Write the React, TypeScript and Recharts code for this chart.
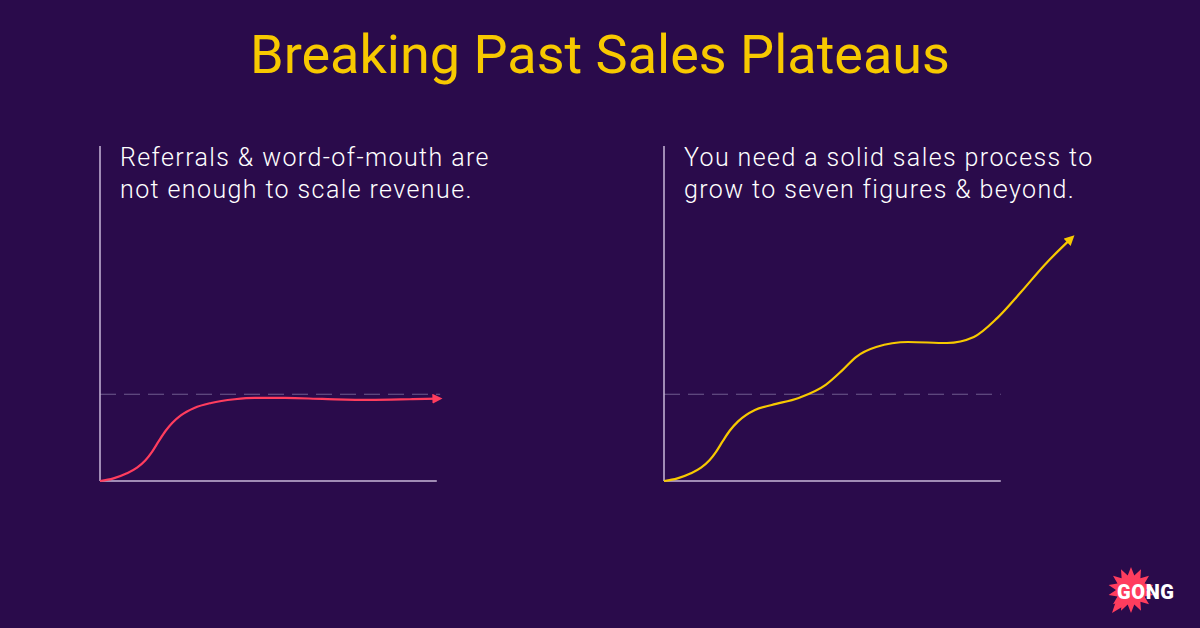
import React from 'react';
import { LineChart, Line, XAxis, YAxis, ReferenceLine } from 'recharts';

const BG = '#2a0b4b';
const AXIS = '#c9b9d9';
const DASH = '#6f5c8e';
const RED = '#ff3d5e';
const YELLOW = '#f7c900';

const title = 'Breaking Past Sales Plateaus';
const leftCaption = ['Referrals & word-of-mouth are', 'not enough to scale revenue.'];
const rightCaption = ['You need a solid sales process to', 'grow to seven figures & beyond.'];

// plateau level shown as a dashed line
const plateauLevel = 25.9;

// left: revenue flattens out at the plateau
const plateauX = [0, 4, 8, 11, 13.5, 15.5, 17.5, 19.5, 21.5, 24, 28, 33, 40, 46, 55, 66, 80, 92, 100.5];
const plateauY = [0, 0.8, 2.3, 4, 6.2, 8.8, 12, 15, 17.4, 19.6, 21.8, 23.3, 24.4, 24.8, 24.8, 24.5, 24.2, 24.4, 24.6];

// right: revenue keeps growing past the plateau
const growthX = [0, 4, 8, 11, 13.5, 15.5, 17.5, 19.5, 22, 27, 32, 40, 48, 53, 57, 63, 72.5, 84, 92, 99, 106, 113, 121];
const growthY = [0, 0.8, 2.3, 4, 6.2, 8.8, 12, 15, 17.8, 21.2, 22.7, 24.8, 28.7, 33.1, 37, 40, 41.5, 41.2, 43, 48.7, 56.4, 64.5, 72.5];

const plateauData = plateauX.map((x, i) => ({ x, y: plateauY[i] }));
const growthData = growthX.map((x, i) => ({ x, y: growthY[i] }));

const CHART_W = 431;
const CHART_H = 345;

function Panel({ data, color, markerId, left, dashEnd }: { data: { x: number; y: number }[]; color: string; markerId: string; left: number; dashEnd: number }) {
    return (
        <div style={{ position: 'absolute', left, top: 141 }}>
            <LineChart width={CHART_W} height={CHART_H} data={data} margin={{ top: 5, right: 5, bottom: 5, left: 5 }}>
                <defs>
                    <marker id={markerId} viewBox="0 0 10 10" refX="6" refY="5" markerWidth="4.6" markerHeight="4.6" orient="auto" markerUnits="strokeWidth">
                        <path d="M0,0 L10,5 L0,10 z" fill={color} />
                    </marker>
                </defs>
                <XAxis type="number" dataKey="x" domain={[0, 125]} hide />
                <YAxis type="number" domain={[0, 100]} hide />
                <ReferenceLine segment={[{ x: 0, y: plateauLevel }, { x: dashEnd, y: plateauLevel }]} stroke={DASH} strokeWidth={1.2} strokeDasharray="16 8" />
                <ReferenceLine segment={[{ x: 0, y: 0 }, { x: 0, y: 100 }]} stroke={AXIS} strokeWidth={1.5} />
                <ReferenceLine segment={[{ x: 0, y: 0 }, { x: 100, y: 0 }]} stroke={AXIS} strokeWidth={1.5} />
                <Line
                    type="monotone"
                    dataKey="y"
                    stroke={color}
                    strokeWidth={2.2}
                    dot={false}
                    activeDot={false}
                    markerEnd={`url(#${markerId})`}
                    isAnimationActive={false}
                />
            </LineChart>
        </div>
    );
}

function Caption({ lines, left }: { lines: string[]; left: number }) {
    return (
        <div style={{ position: 'absolute', left, top: 141.5, color: '#ffffff', fontSize: 25, lineHeight: '32px', fontWeight: 300, letterSpacing: 1.4, whiteSpace: 'nowrap' }}>
            {lines.map((l) => (
                <div key={l}>{l}</div>
            ))}
        </div>
    );
}

// spiky badge behind the logo word
function GongLogo() {
    const pts: string[] = [];
    const cx = 1131;
    const cy = 590;
    const n = 14;
    for (let i = 0; i < n * 2; i++) {
        const a = (Math.PI * i) / n - Math.PI / 2;
        const r = i % 2 === 0 ? 23 : 15;
        pts.push(`${(cx + r * Math.cos(a)).toFixed(1)},${(cy + r * Math.sin(a)).toFixed(1)}`);
    }
    return (
        <svg width={1200} height={628} style={{ position: 'absolute', left: 0, top: 0, pointerEvents: 'none' }}>
            <polygon points={pts.join(' ')} fill={RED} />
            <polygon points="1117,598 1112,613 1127,604" fill={RED} />
            <text x={1117} y={599} fill="#ffffff" fontFamily="Roboto" fontWeight={900} fontSize={20} letterSpacing={0.6}>
                GONG
            </text>
        </svg>
    );
}

export default function App() {
    return (
        <div style={{ position: 'absolute', left: 0, top: 0, width: 1200, height: 628, background: BG, fontFamily: 'Roboto', overflow: 'hidden' }}>
            <div style={{ position: 'absolute', left: 0, top: 28, width: 1200, textAlign: 'center', color: YELLOW, fontSize: 54, lineHeight: '54px', fontWeight: 400 }}>
                {title}
            </div>
            <Caption lines={leftCaption} left={120} />
            <Caption lines={rightCaption} left={684} />
            <Panel data={plateauData} color={RED} markerId="arrowRed" left={95} dashEnd={101} />
            <Panel data={growthData} color={YELLOW} markerId="arrowYellow" left={659} dashEnd={100} />
            <GongLogo />
        </div>
    );
}
